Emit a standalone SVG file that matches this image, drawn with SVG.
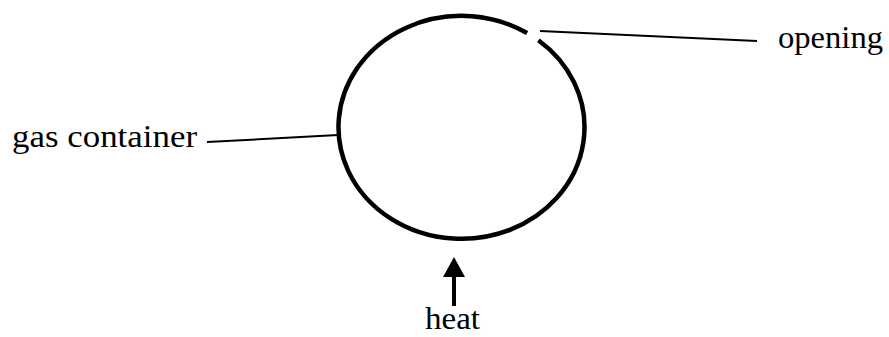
<svg xmlns="http://www.w3.org/2000/svg" width="889" height="337" viewBox="0 0 889 337">
<style>
.lbl{font-family:"Liberation Serif","Times New Roman",serif;font-size:32px;fill:#000}
.ln{stroke:#000;stroke-width:2;fill:none}
</style>
<rect width="889" height="337" fill="#fff"/>
<g id="container">
<path d="M 527.1 33 A 123 111.5 0 1 0 538.4 40.3" fill="none" stroke="#000" stroke-width="4.5"/>
</g>
<g id="connectors">
<line class="ln" x1="540" y1="31" x2="757" y2="41"/>
<line class="ln" x1="207" y1="142" x2="338" y2="135"/>
<line x1="454" y1="306" x2="454" y2="276" stroke="#000" stroke-width="4"/>
<polygon points="454,257 443,277 465,277" fill="#000"/>
</g>
<g id="label-opening"><text class="lbl" x="778" y="48" textLength="105" lengthAdjust="spacingAndGlyphs">opening</text></g>
<g id="label-gas"><text class="lbl" x="12" y="147" textLength="185" lengthAdjust="spacingAndGlyphs">gas container</text></g>
<g id="label-heat"><text class="lbl" x="425" y="329" textLength="55" lengthAdjust="spacingAndGlyphs">heat</text></g>
</svg>
